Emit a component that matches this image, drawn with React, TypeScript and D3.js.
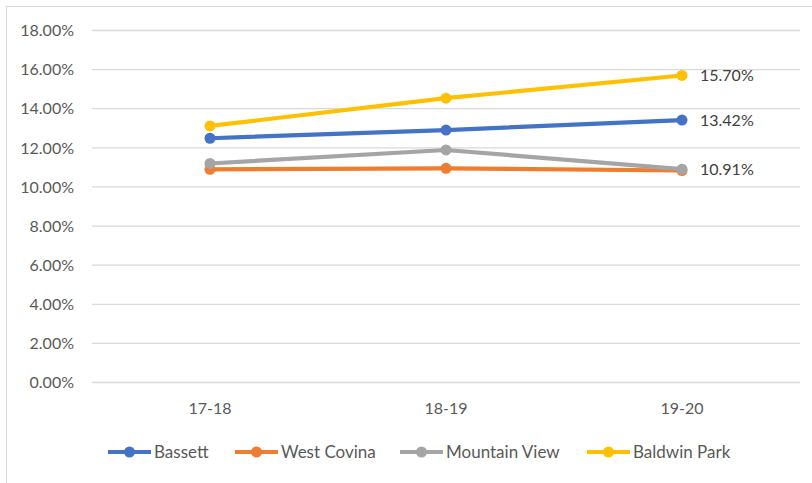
import { useMemo } from 'react'
import * as d3 from 'd3'

const WIDTH = 812
const HEIGHT = 483

const categories = ['17-18', '18-19', '19-20']
const seriesNames = ['Bassett', 'West Covina', 'Mountain View', 'Baldwin Park']
const seriesColors = ['#4472C4', '#ED7D31', '#A5A5A5', '#FFC000']

const bassett = [12.49, 12.91, 13.42]
const westCovina = [10.9, 10.95, 10.84]
const mountainView = [11.2, 11.89, 10.91]
const baldwinPark = [13.12, 14.54, 15.7]

const yTicks = [0, 2, 4, 6, 8, 10, 12, 14, 16, 18]
// series that carry a label on their last point
const labelled = ['Bassett', 'Mountain View', 'Baldwin Park']

const FONT = 'Lato, "Noto Sans", sans-serif'
const TEXT = '#595959'

export default function App() {
  const values = [bassett, westCovina, mountainView, baldwinPark]

  const x = useMemo(
    () => d3.scalePoint().domain(categories).range([92, 800]).padding(0.5),
    []
  )
  const y = useMemo(() => d3.scaleLinear().domain([0, 18]).range([382.5, 30.5]), [])

  const line = d3
    .line<number>()
    .x((_, i) => x(categories[i]) as number)
    .y((d) => y(d))

  const legendX = [108, 235, 400, 587]

  return (
    <svg
      width={WIDTH}
      height={HEIGHT}
      style={{ position: 'absolute', left: 0, top: 0, background: '#fff' }}
      fontFamily={FONT}
    >
      <rect x={6.5} y={6.5} width={WIDTH + 10} height={HEIGHT + 10} fill="#fff" stroke="#D9D9D9" />

      {yTicks.map((t) => (
        <g key={t}>
          <line x1={92} x2={800} y1={y(t)} y2={y(t)} stroke="#D9D9D9" strokeWidth={1.3} />
          <text
            x={74}
            y={y(t)}
            dy="0.36em"
            textAnchor="end"
            fontSize={16}
            fill={TEXT}
          >
            {d3.format('.2f')(t)}%
          </text>
        </g>
      ))}

      {categories.map((c) => (
        <text key={c} x={x(c)} y={408} dy="0.36em" textAnchor="middle" fontSize={16} fill={TEXT}>
          {c}
        </text>
      ))}

      {values.map((vals, si) => (
        <g key={seriesNames[si]}>
          <path
            d={line(vals) || ''}
            fill="none"
            stroke={seriesColors[si]}
            strokeWidth={4.2}
            strokeLinejoin="round"
          />
          {vals.map((v, i) => (
            <circle key={i} cx={x(categories[i])} cy={y(v)} r={5.5} fill={seriesColors[si]} />
          ))}
        </g>
      ))}

      {values.map((vals, si) =>
        labelled.includes(seriesNames[si]) ? (
          <text
            key={seriesNames[si]}
            x={(x(categories[2]) as number) + 18}
            y={y(vals[2])}
            dy="0.36em"
            fontSize={16}
            fill="#404040"
          >
            {d3.format('.2f')(vals[2])}%
          </text>
        ) : null
      )}

      {seriesNames.map((name, i) => (
        <g key={name} transform={`translate(${legendX[i]},452)`}>
          <line x1={0} x2={43} y1={0} y2={0} stroke={seriesColors[i]} strokeWidth={4.2} />
          <circle cx={21.5} cy={0} r={5.5} fill={seriesColors[i]} />
          <text x={46} y={0} dy="0.36em" fontSize={17} fill={TEXT}>
            {name}
          </text>
        </g>
      ))}
    </svg>
  )
}
